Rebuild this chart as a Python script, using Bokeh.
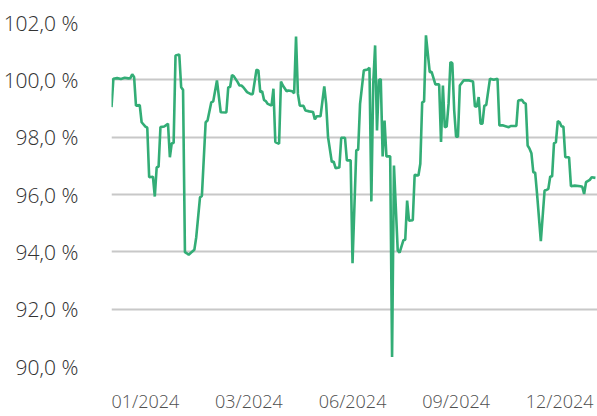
from bokeh.plotting import figure
from bokeh.models import Range1d, FixedTicker, ColumnDataSource
from bokeh.embed import file_html
from bokeh.resources import INLINE

# trading-day index and value (%)
day = [0, 1, 3, 5, 7, 9, 10, 11, 12, 13, 15, 16, 18, 19, 20, 22, 23, 24, 25, 26, 28, 30,
       31, 32, 33, 34, 36, 37, 38, 39, 40, 41, 42, 44, 45, 47, 48, 50, 51, 53, 54, 56,
       58, 61, 62, 63, 64, 65, 67, 68, 69, 70, 72, 74, 75, 77, 78, 79, 80, 81, 82, 83,
       85, 86, 87, 89, 90, 91, 93, 94, 96, 97, 98, 99, 100, 102, 103, 105, 107, 108,
       109, 111, 113, 114, 115, 117, 118, 119, 121, 122, 124, 125, 127, 128, 130, 131,
       132, 134, 136, 137, 138, 139, 140, 141, 142, 143, 144, 145, 146, 148, 149, 150,
       152, 153, 155, 156, 157, 158, 160, 161, 163, 164, 165, 166, 167, 169, 170, 172,
       174, 175, 176, 177, 178, 179, 180, 181, 182, 183, 184, 185, 187, 190, 192, 193,
       194, 195, 196, 197, 198, 199, 201, 203, 205, 206, 208, 211, 212, 215, 216, 218,
       219, 220, 221, 222, 223, 224, 225, 226, 228, 230, 231, 232, 233, 234, 235, 236,
       237, 238, 239, 240, 241, 243, 244, 246, 249, 250, 251, 252, 254, 255, 257]
value = [99.05, 100.04, 100.06, 100.03, 100.07, 100.05, 100.06, 100.19, 100.10, 99.10,
         99.12, 98.52, 98.37, 98.33, 96.60, 96.62, 95.93, 96.95, 96.97, 98.35, 98.37,
         98.47, 97.30, 97.79, 97.80, 100.85, 100.88, 99.74, 99.65, 93.99, 93.95, 93.90,
         93.96, 94.07, 94.51, 95.90, 95.95, 98.52, 98.58, 99.22, 99.24, 99.98, 98.87,
         98.86, 99.74, 99.75, 100.17, 100.12, 99.92, 99.80, 99.80, 99.74, 99.57, 99.50,
         99.50, 100.35, 100.33, 99.57, 99.60, 99.30, 99.25, 99.16, 99.10, 99.69, 97.83,
         97.77, 99.94, 99.80, 99.60, 99.63, 99.60, 99.53, 101.51, 99.51, 99.10, 99.09,
         98.93, 98.90, 98.88, 98.62, 98.73, 98.73, 99.77, 99.16, 98.00, 97.13, 97.15,
         96.92, 96.94, 97.98, 97.98, 97.19, 97.19, 93.60, 97.54, 97.56, 99.16, 100.33,
         100.36, 100.42, 95.76, 99.86, 101.20, 98.23, 99.98, 100.03, 97.33, 98.58, 97.33,
         97.33, 90.33, 97.01, 94.05, 93.97, 94.40, 94.42, 95.79, 95.09, 95.10, 96.69,
         96.66, 97.07, 99.22, 99.24, 101.55, 100.27, 100.28, 99.84, 99.84, 97.83, 99.80,
         98.35, 98.37, 99.16, 100.62, 100.58, 98.93, 98.02, 98.02, 99.80, 99.98, 99.98,
         99.94, 99.07, 99.07, 99.40, 98.47, 98.47, 99.10, 99.12, 100.04, 100.00, 100.04,
         98.41, 98.41, 98.35, 98.39, 98.39, 99.28, 99.30, 99.20, 99.17, 97.71, 97.60,
         97.44, 96.78, 96.76, 96.02, 94.37, 96.14, 96.16, 96.20, 96.63, 96.63, 97.79,
         97.82, 98.56, 98.52, 98.37, 98.37, 97.30, 97.30, 96.29, 96.31, 96.29, 96.27,
         96.02, 96.43, 96.51, 96.60, 96.58]

x_ticks = [18, 73, 128, 183, 238]
x_tick_labels = ["01/2024", "03/2024", "06/2024", "09/2024", "12/2024"]
y_ticks = [90, 92, 94, 96, 98, 100, 102]
y_tick_labels = ["90,0 %", "92,0 %", "94,0 %", "96,0 %", "98,0 %", "100,0 %", "102,0 %"]

src = ColumnDataSource(dict(day=day, value=value))

p = figure(width=597, height=416, output_backend="svg", toolbar_location=None,
           x_range=Range1d(0, 258.1), y_range=Range1d(90, 102),
           min_border_left=111, min_border_right=0, min_border_top=22,
           min_border_bottom=50)
p.outline_line_color = None

p.line("day", "value", source=src, line_color="#33ad76", line_width=2.6)

p.xgrid.grid_line_color = None
p.ygrid.grid_line_color = "#c8c8c8"
p.ygrid.grid_line_width = 2.2

p.yaxis.ticker = FixedTicker(ticks=y_ticks)
p.yaxis.major_label_overrides = {t: l for t, l in zip(y_ticks, y_tick_labels)}
p.xaxis.ticker = FixedTicker(ticks=x_ticks)
p.xaxis.major_label_overrides = {t: l for t, l in zip(x_ticks, x_tick_labels)}

for ax in (p.xaxis, p.yaxis):
    ax.axis_line_color = None
    ax.major_tick_line_color = None
    ax.minor_tick_line_color = None
    ax.major_label_text_font = "'Open Sans Light', 'Lato Light', 'Open Sans'"

p.yaxis.major_label_text_font_size = "21px"
p.yaxis.major_label_text_color = "#333333"
p.yaxis.major_label_standoff = 27
p.xaxis.major_label_text_font_size = "18px"
p.xaxis.major_label_text_color = "#505050"
p.xaxis.major_label_standoff = 16

open("out.html", "w").write(file_html(p, INLINE))
